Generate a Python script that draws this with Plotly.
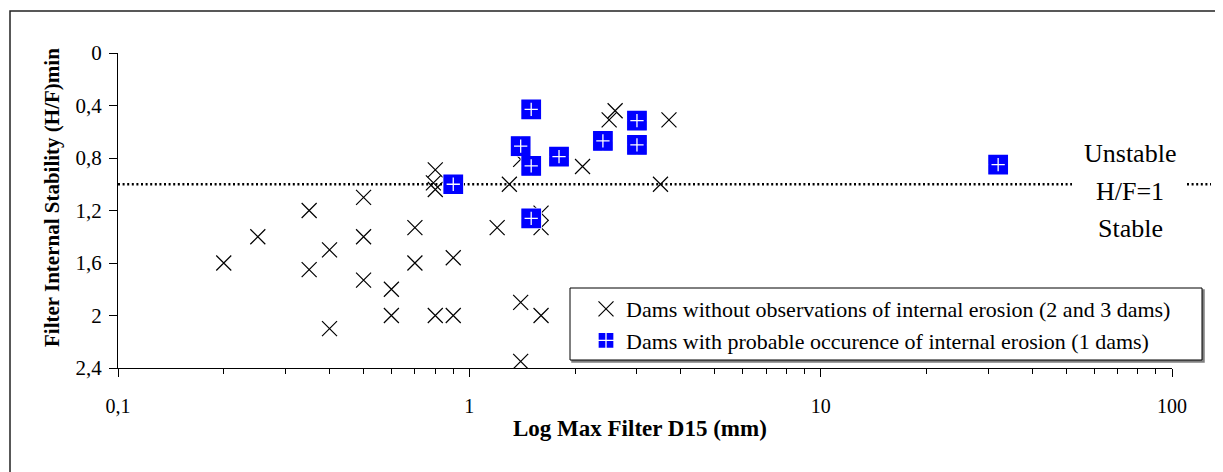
import plotly.graph_objects as go

# ---------------- data ----------------
no_erosion_d15 = [0.2, 0.25, 0.35, 0.35, 0.4, 0.4, 0.5, 0.5, 0.5, 0.6, 0.6, 0.7, 0.7,
                  0.8, 0.79, 0.8, 0.8, 0.9, 0.9, 1.2, 1.3, 1.4, 1.4, 1.4, 1.6, 1.6, 1.6,
                  2.1, 2.5, 2.6, 3.5, 3.7]
no_erosion_hf = [1.6, 1.4, 1.2, 1.65, 1.5, 2.1, 1.1, 1.4, 1.73, 1.8, 2.0, 1.33, 1.6,
                 0.89, 0.99, 1.04, 2.0, 1.56, 2.0, 1.33, 1.0, 0.81, 1.9, 2.35, 1.22, 1.33, 2.0,
                 0.865, 0.51, 0.44, 1.0, 0.51]

erosion_d15 = [0.9, 1.4, 1.5, 1.5, 1.5, 1.8, 2.4, 3.0, 3.0, 32]
erosion_hf = [1.0, 0.71, 0.43, 0.86, 1.26, 0.79, 0.67, 0.515, 0.70, 0.85]

stability_limit = 1.0

x_tick_vals = [0.1, 1, 10, 100]
x_tick_text = ["0,1", "1", "10", "100"]
x_minor_vals = [k * d for d in (0.1, 1, 10) for k in range(2, 10)]

name_no = "Dams without observations of internal erosion (2 and 3 dams)"
name_yes = "Dams with probable occurence of internal erosion (1 dams)"

FONT = "Liberation Serif"
# the page body has an 8px margin, so the figure is laid out 8px up/left
OFF = 8
W, H = 1223 - OFF, 472 - OFF
PLOT_X0, PLOT_X1, PLOT_Y0, PLOT_Y1 = 118, 1172, 53, 368   # screen pixels
L, T = PLOT_X0 - OFF, PLOT_Y0 - OFF
R, B = W - (PLOT_X1 - OFF), H - (PLOT_Y1 - OFF)
PW, PH = PLOT_X1 - PLOT_X0, PLOT_Y1 - PLOT_Y0


def px2x(px):
    return (px - PLOT_X0) / PW


def px2y(py):
    return (PLOT_Y1 - py) / PH


fig = go.Figure()
fig.add_trace(go.Scatter(
    x=no_erosion_d15, y=no_erosion_hf, mode="markers", name=name_no,
    marker=dict(symbol="x-thin-open", size=15, color="black",
                line=dict(color="black", width=1.2)),
))
fig.add_trace(go.Scatter(
    x=erosion_d15, y=erosion_hf, mode="markers", name=name_yes,
    marker=dict(symbol="square-cross", size=20, color="#0000FF",
                line=dict(color="white", width=1.3)),
))
# blue rim so the white cross sits inside the square
fig.add_trace(go.Scatter(
    x=erosion_d15, y=erosion_hf, mode="markers", showlegend=False, hoverinfo="skip",
    marker=dict(symbol="square-open", size=16.5, color="#0000FF",
                line=dict(color="#0000FF", width=3.2)),
))

# reference line H/F = 1 (dotted), broken around the label
dot_style = dict(color="black", width=2.6, dash="2px,2.6px")
fig.add_shape(type="line", xref="paper", yref="y", x0=0, x1=px2x(1072),
              y0=stability_limit, y1=stability_limit, line=dot_style, layer="below")
fig.add_shape(type="line", xref="paper", yref="y", x0=px2x(1187), x1=px2x(1211),
              y0=stability_limit, y1=stability_limit, line=dot_style, layer="below")

# outer frame
fig.add_shape(type="rect", xref="paper", yref="paper",
              x0=px2x(10), x1=px2x(1217), y0=px2y(11), y1=px2y(530),
              line=dict(color="#222222", width=1.5), layer="below")

# legend box with shadow
fig.add_shape(type="rect", xref="paper", yref="paper",
              x0=px2x(572), x1=px2x(1204), y0=px2y(290), y1=px2y(362),
              line=dict(color="#808080", width=1.5), fillcolor="#808080", layer="above")
fig.add_shape(type="rect", xref="paper", yref="paper",
              x0=px2x(570), x1=px2x(1202), y0=px2y(288), y1=px2y(360),
              line=dict(color="black", width=1), fillcolor="white", layer="above")

annos = [
    dict(text="Unstable", x=px2x(1130), y=px2y(153), size=26),
    dict(text="H/F=1", x=px2x(1130), y=px2y(191), size=26),
    dict(text="Stable", x=px2x(1130), y=px2y(228), size=26),
]
for a in annos:
    fig.add_annotation(text=a["text"], xref="paper", yref="paper", x=a["x"], y=a["y"],
                       xanchor="center", yanchor="middle", showarrow=False,
                       font=dict(family=FONT, size=a["size"], color="black"))

fig.add_annotation(text="<b>Log Max Filter D15 (mm)</b>", xref="paper", yref="paper",
                   x=px2x(640), y=px2y(428), xanchor="center", yanchor="middle",
                   showarrow=False, font=dict(family=FONT, size=23, color="black"))
fig.add_annotation(text="<b>Filter Internal Stability (H/F)min</b>", xref="paper", yref="paper",
                   x=px2x(52), y=px2y(198), xanchor="center", yanchor="middle",
                   textangle=-90, showarrow=False,
                   font=dict(family=FONT, size=21, color="black"))

fig.update_layout(
    width=W, height=H,
    margin=dict(l=L, r=R, t=T, b=B, autoexpand=False),
    paper_bgcolor="white", plot_bgcolor="white",
    separators=",.",
    font=dict(family=FONT, size=20, color="black"),
    xaxis=dict(type="log", range=[-1, 2], tickvals=x_tick_vals, ticktext=x_tick_text,
               ticks="outside", ticklen=8, tickwidth=1, tickcolor="black",
               showline=True, linecolor="black", linewidth=1, showgrid=False, zeroline=False,
               ticklabelstandoff=12, tickfont=dict(family=FONT, size=20),
               minor=dict(tickvals=x_minor_vals, ticks="outside", ticklen=5,
                          tickcolor="black", tickwidth=1, showgrid=False)),
    yaxis=dict(range=[2.4, 0], tick0=0, dtick=0.4, ticks="outside", ticklen=8,
               tickwidth=1, tickcolor="black", showline=True, linecolor="black",
               linewidth=1, showgrid=False, zeroline=False, ticklabelstandoff=3,
               tickfont=dict(family=FONT, size=21)),
    yaxis2=dict(overlaying="y", anchor="x", side="left", range=[2.4, 0], tick0=0,
                dtick=0.2, ticks="inside", ticklen=5, tickwidth=1, tickcolor="black",
                showticklabels=False, showline=False, showgrid=False, zeroline=False),
    legend=dict(x=px2x(586), y=px2y(288), xanchor="left", yanchor="top",
                bgcolor="rgba(0,0,0,0)", borderwidth=0,
                font=dict(family=FONT, size=22, color="black"),
                itemwidth=30, tracegroupgap=0),
    showlegend=True,
)

fig.write_html("out.html")
